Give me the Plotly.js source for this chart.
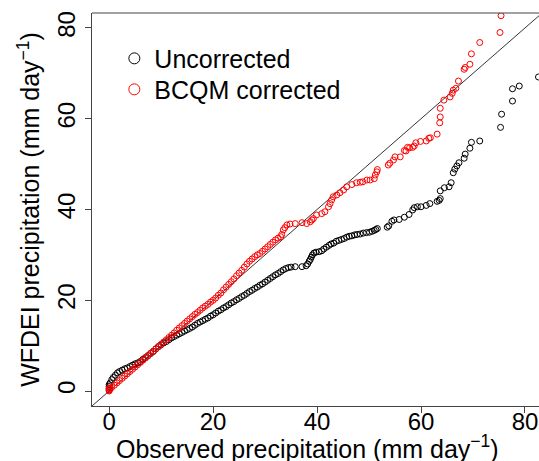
<!DOCTYPE html>
<html>
<head>
<meta charset="utf-8">
<script src="https://cdn.plot.ly/plotly-3.0.1.min.js"></script>
<style>html,body{margin:0;padding:0;background:#fff;}#chart{width:539px;height:461px;}</style>
</head>
<body>
<div id="chart"></div>
<script>
// Uncorrected (black) quantiles: observed (x) vs WFDEI (y)
var uncorrObs = [0,0,0,0,0.2,0.5,0.8,1.2,1.6,2.0,2.5,3.0,3.5,4.0,4.5,5.0,5.5,6.0,6.5,7.0,7.5,8.0,8.5,9.0,9.5,10,10.5,11,11.5,12,12.5,13,13.5,14,14.5,15,15.5,16,16.5,17,17.5,18,18.5,19,19.5,20,20.5,21,21.5,22,22.5,23,23.5,24,24.5,25,25.5,26,26.5,27,27.5,28,28.5,29,29.5,30,30.5,31,31.5,32,32.5,33,33.5,34,34.5,35.0,
  35.8,37.1,37.9,38.2,38.5,38.7,38.9,39.1,39.4,39.8,40.4,40.9,41.3,41.8,42.3,42.7,43.2,43.7,44.2,44.7,45.2,45.7,46.2,46.7,47.2,47.7,48.3,48.9,49.5,50.1,50.6,51.0,51.3,51.6,
  53.5,53.8,54.4,54.8,55.8,56.8,57.7,58.4,58.7,59.3,60.0,61.0,61.7,63.1,63.5,63.7,63.7,64.5,65.4,65.8,66.2,66.5,66.9,67.3,68.3,68.5,69.4,69.7,71.3,75.3,75.5,77.6,77.6,78.9,82.6];
var uncorrMod = [0.2,0.6,1.0,1.4,1.8,2.5,3.0,3.5,4.0,4.3,4.6,4.9,5.1,5.4,5.7,6.0,6.2,6.5,7.0,7.4,7.8,8.3,8.7,9.3,9.8,10.2,10.6,10.9,11.3,11.7,12.0,12.3,12.6,12.9,13.2,13.5,13.8,14.1,14.5,14.9,15.2,15.5,15.8,16.1,16.5,16.8,17.2,17.6,17.9,18.3,18.6,19.0,19.4,19.7,20.1,20.4,20.8,21.1,21.5,21.9,22.2,22.6,22.9,23.3,23.6,24.0,24.4,24.8,25.2,25.6,25.9,26.3,26.7,27.0,27.2,27.3,
  27.4,27.4,27.6,28.0,28.6,29.0,29.5,30.0,30.4,30.6,30.7,30.9,31.3,31.7,32.1,32.4,32.6,33.0,33.2,33.4,33.6,33.9,34.1,34.2,34.4,34.5,34.6,34.8,34.9,35.0,35.2,35.4,35.6,35.8,
  36.1,36.4,37.4,37.7,37.8,38.3,38.9,39.9,40.4,40.6,40.6,40.9,41.3,41.8,42.0,42.4,44.1,44.8,45.0,45.9,48.1,48.9,49.6,50.3,51.3,52.2,53.5,54.8,55.1,58.1,61.0,63.9,66.6,67.2,69.2];

// BCQM corrected (red) quantiles
var corrObs = [0,0,0,0.2,0.5,1.0,1.5,2.0,2.5,3.0,3.5,4.0,4.5,5.0,5.5,6.0,6.5,7.0,7.5,8.0,8.5,9.0,9.5,10,10.5,11,11.5,12,12.5,13,13.5,14,14.5,15,15.5,16,16.5,17,17.5,18,18.5,19,19.5,20,20.5,21,21.5,22,22.5,23,23.5,24,24.5,25,25.5,26,26.5,27,27.5,28,28.5,29,29.5,30,30.5,31,31.5,32,32.5,33,
  33.2,33.5,33.8,34.2,34.8,35.8,37.1,38.0,38.7,39.0,39.3,39.9,40.9,41.5,42.2,42.5,42.8,43.1,43.8,44.4,45.1,45.7,46.7,47.6,48.3,48.8,49.6,50.2,51.0,51.2,51.5,51.6,
  53.7,54.0,54.7,55.0,56.0,56.8,57.1,57.4,57.8,58.4,58.7,59.0,59.9,61.0,61.5,61.8,63.1,63.6,63.7,63.7,64.4,65.6,66.0,66.2,66.7,67.2,68.3,68.5,69.4,69.7,71.3,75.2,75.4];
var corrMod = [0,0.3,0.6,0.5,0.8,1.3,1.8,2.3,2.8,3.3,3.8,4.3,4.8,5.3,5.8,6.3,6.8,7.3,7.8,8.3,8.8,9.3,9.8,10.3,10.8,11.3,11.8,12.3,12.8,13.4,13.9,14.4,14.9,15.4,15.9,16.4,16.9,17.3,17.8,18.3,18.7,19.1,19.6,20.0,20.5,21.1,21.6,22.3,22.9,23.5,24.1,24.7,25.4,26.0,26.6,27.3,28.0,28.6,29.1,29.6,30.0,30.3,30.8,31.3,31.8,32.3,32.8,33.3,33.7,34.0,
  34.5,35.5,36.0,36.6,36.8,36.9,37.1,36.9,37.3,37.7,38.0,38.8,39.1,39.5,40.6,41.3,42.1,42.8,43.2,43.7,44.3,45.0,45.5,45.9,46.0,46.1,46.5,46.5,46.8,47.6,48.3,48.8,
  49.8,50.2,50.9,51.6,51.6,53.0,52.9,53.7,53.6,53.7,54.0,54.7,55.0,55.1,55.7,55.8,56.6,59.1,60.4,62.3,64.1,64.8,65.6,66.3,66.7,68.3,70.9,71.3,72.0,74.3,76.8,79.0,82.7];

var xRange = [-3.3, 82.7];
var yRange = [-3.3, 83.3];
var tickVals = [0, 20, 40, 60, 80];
var legendNames = ['Uncorrected', 'BCQM corrected'];
var seriesColors = ['#000000', '#FF0000'];
var xTitle = 'Observed precipitation (mm day<sup>−1</sup>)';
var yTitle = 'WFDEI precipitation (mm day<sup>−1</sup>)';

var FONT = 'Liberation Sans, Arial, Helvetica, sans-serif';

var oneToOne = [Math.min(xRange[0], yRange[0]) - 5, Math.max(xRange[1], yRange[1]) + 5];

function pointMarker(c) {
  return {symbol: 'circle-open', size: 6, color: c, line: {width: 1, color: c}};
}
function legendMarker(c) {
  return {symbol: 'circle-open', size: 11, color: c, line: {width: 1, color: c}};
}

var traces = [
  {x: oneToOne, y: oneToOne, mode: 'lines', line: {color: '#000', width: 0.8}, showlegend: false, hoverinfo: 'skip'},
  {x: uncorrObs, y: uncorrMod, mode: 'markers', name: legendNames[0], showlegend: false, marker: pointMarker(seriesColors[0])},
  {x: corrObs, y: corrMod, mode: 'markers', name: legendNames[1], showlegend: false, marker: pointMarker(seriesColors[1])},
  // legend entries only (no drawable data)
  {x: [null], y: [null], mode: 'markers', name: legendNames[0], legend: 'legend', showlegend: true, marker: legendMarker(seriesColors[0])},
  {x: [null], y: [null], mode: 'markers', name: legendNames[1], legend: 'legend2', showlegend: true, marker: legendMarker(seriesColors[1])}
];

var axisCommon = {
  showgrid: false, zeroline: false, showline: true, linecolor: '#444', linewidth: 1,
  ticks: 'outside', ticklen: 6, tickcolor: '#444', tickwidth: 1,
  tickvals: tickVals, ticktext: tickVals.map(String),
  tickfont: {family: FONT, size: 24, color: '#000'}, automargin: false
};

var legendCommon = {xanchor: 'left', yanchor: 'top', bgcolor: 'rgba(0,0,0,0)',
  font: {family: FONT, size: 25, color: '#000'}, itemsizing: 'trace'};

var layout = {
  width: 539, height: 461,
  margin: {l: 92, r: 0, t: 13, b: 55},
  paper_bgcolor: '#fff', plot_bgcolor: '#fff',
  font: {family: FONT, color: '#000'},
  xaxis: Object.assign({}, axisCommon, {range: xRange, ticklabelstandoff: -12}),
  yaxis: Object.assign({}, axisCommon, {
    range: yRange, tickangle: -90,
    title: {text: yTitle, font: {family: FONT, size: 25, color: '#000'}, standoff: 6}
  }),
  showlegend: true,
  legend: Object.assign({}, legendCommon, {x: 0.05, y: 0.9425}),
  legend2: Object.assign({}, legendCommon, {x: 0.05, y: 0.8636}),
  annotations: [
    {text: xTitle, xref: 'paper', yref: 'paper', x: 0.483, y: -0.104, xanchor: 'center', yanchor: 'middle',
     showarrow: false, font: {family: FONT, size: 25, color: '#000'}}
  ],
  shapes: [
    {type: 'line', xref: 'paper', yref: 'paper', x0: 0, x1: 1, y0: 1, y1: 1, line: {color: '#444', width: 1}}
  ]
};

Plotly.newPlot('chart', traces, layout, {staticPlot: true, displayModeBar: false});
</script>
</body>
</html>
